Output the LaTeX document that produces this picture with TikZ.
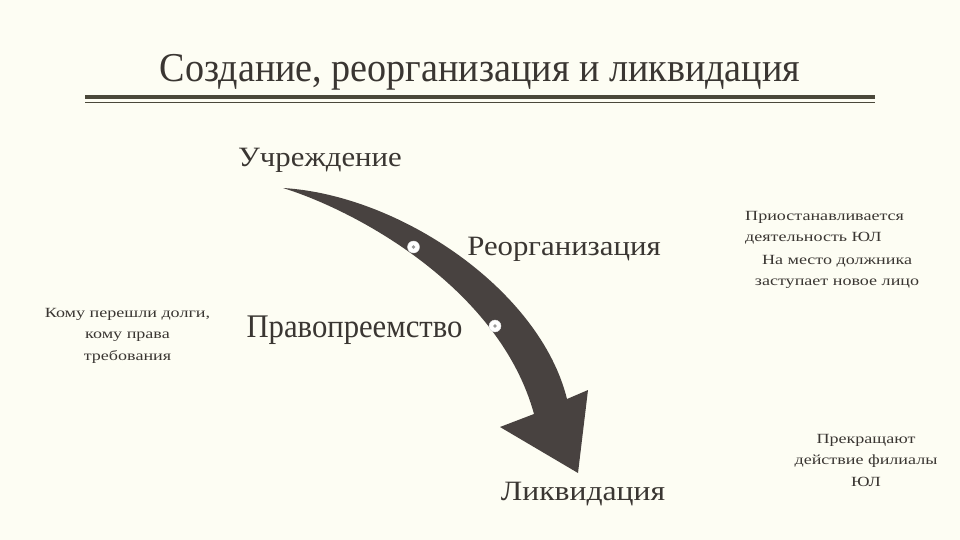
\documentclass[tikz,border=0pt]{standalone}
\usepackage{fontspec}
\setmainfont{Liberation Serif}
\definecolor{bgc}{RGB}{253,253,243}
\definecolor{txt}{RGB}{58,54,50}
\definecolor{arrc}{RGB}{72,66,64}
\definecolor{rulec}{RGB}{74,72,58}
\newcommand{\hs}[2]{\scalebox{#1}[1]{#2}}
\newcommand{\sm}[2]{\hs{1.29}{\begin{tabular}[t]{@{}#1@{}}#2\end{tabular}}}
\tikzset{
  lbl/.style={inner sep=0pt, anchor=base, text=txt, font=\fontsize{28}{30}\selectfont},
  small/.style={inner sep=0pt, anchor=base, text=txt, font=\fontsize{14}{21.6}\selectfont},
  stop/.style={circle, fill=white, draw=gray!25, line width=0.4pt, minimum size=12pt, inner sep=0pt,
    path picture={\fill[gray!80] (path picture bounding box.center) circle (1.9pt);}}
}
\begin{document}
\begin{tikzpicture}[x=1pt,y=-1pt]
\useasboundingbox[fill=bgc] (0,0) rectangle (960,540);
% title
\node[inner sep=0pt, anchor=base, text=txt, font=\fontsize{41}{44}\selectfont] (title) at (480,82) {\hs{0.93}{Создание, реорганизация и ликвидация}};
\draw[rulec, line width=3.5pt] (85,97) coordinate (r1a) -- (875,97) coordinate (r1b);
\draw[rulec, line width=1pt] (85,102.5) coordinate (r2a) -- (875,102.5) coordinate (r2b);
% arrow
\fill[arrc] (283,188) .. controls (360,212) and (500,290) .. (534,414)
  -- (500,427) -- (578,473) -- (588,390) -- (567,399)
  .. controls (540,290) and (400,195) .. (283,188) -- cycle;
\node[stop] (d1) at (413.5,247) {};
\node[stop] (d2) at (495,326) {};
% labels
\node[lbl] (uch) at (320,167) {\hs{1.1}{Учреждение}};
\node[lbl] (reo) at (564,255) {\hs{1.1}{Реорганизация}};
\node[lbl, font=\fontsize{33}{36}\selectfont] (pra) at (354.5,337) {\hs{0.93}{Правопреемство}};
\node[lbl] (lik) at (583,500) {\hs{1.13}{Ликвидация}};
\node[small] (left) at (127.5,317) {\sm{c}{Кому перешли долги,\\кому права\\требования}};
\node[small, anchor=base west] (pr1) at (745,220) {\sm{l}{Приостанавливается\\деятельность ЮЛ}};
\node[small] (pr2) at (837,264) {\sm{c}{На место должника\\заступает новое лицо}};
\node[small] (fil) at (866,443) {\sm{c}{Прекращают\\действие филиалы\\ЮЛ}};
\end{tikzpicture}
\end{document}
